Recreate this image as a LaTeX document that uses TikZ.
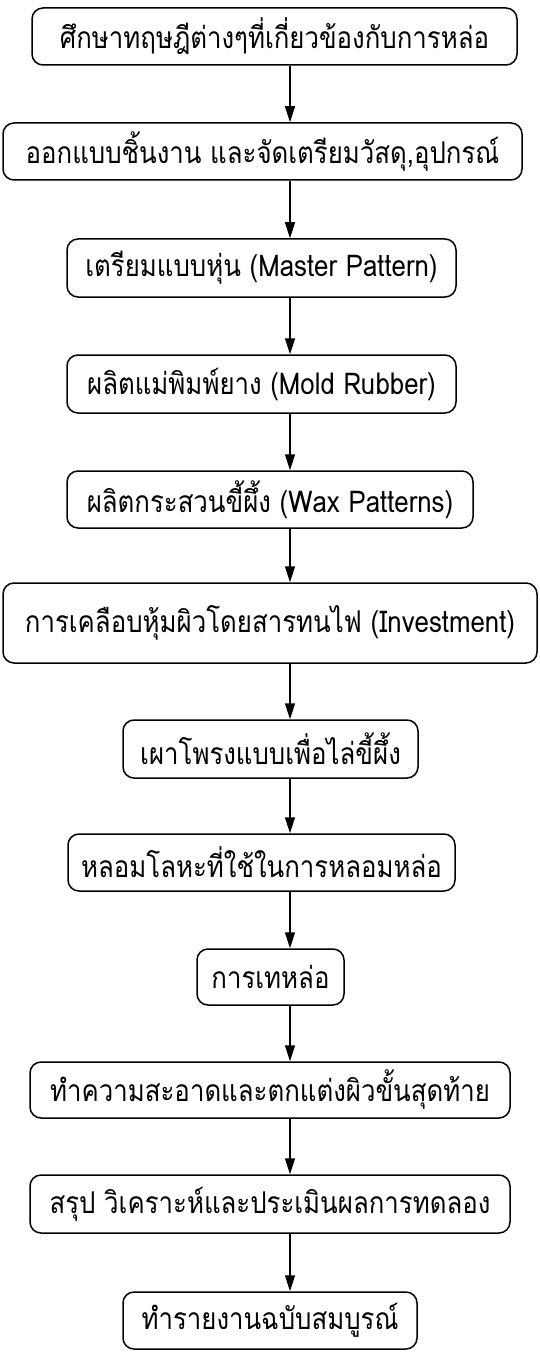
\documentclass[tikz,border=0pt]{standalone}
\usepackage{fontspec}
\newfontfamily\thaifont[Script=Thai,FakeStretch=0.86]{Loma}
\usetikzlibrary{arrows.meta}
\tikzset{
  stepbox/.style={draw, line width=1.5pt, rounded corners=11pt, inner sep=0pt,
    font=\thaifont\fontsize{30}{34}\selectfont, anchor=center},
  flow/.style={line width=1.5pt, -{Triangle[length=16pt,width=10pt]}}
}
\begin{document}
\begin{tikzpicture}[x=1pt,y=-1pt]
\useasboundingbox (0,0) rectangle (540,1364);
\coordinate (ax) at (290,0);
\node[stepbox, minimum width=485pt, minimum height=57pt] (b1) at (274.5,36.5) {ศึกษาทฤษฎีต่างๆที่เกี่ยวข้องกับการหล่อ};
\node[stepbox, minimum width=519pt, minimum height=57pt] (b2) at (262.5,151.5) {ออกแบบชิ้นงาน และจัดเตรียมวัสดุ,อุปกรณ์};
\node[stepbox, minimum width=389pt, minimum height=58pt] (b3) at (261.5,268) {เตรียมแบบหุ่น (Master Pattern)};
\node[stepbox, minimum width=389pt, minimum height=58pt] (b4) at (261.5,384) {ผลิตแม่พิมพ์ยาง (Mold Rubber)};
\node[stepbox, minimum width=406pt, minimum height=57pt] (b5) at (270,499.5) {ผลิตกระสวนขี้ผึ้ง (Wax Patterns)};
\node[stepbox, minimum width=534pt, minimum height=80pt] (b6) at (270,623) {การเคลือบหุ้มผิวโดยสารทนไฟ (Investment)};
\node[stepbox, minimum width=295pt, minimum height=58pt] (b7) at (270.5,749) {เผาโพรงแบบเพื่อไล่ขี้ผึ้ง};
\node[stepbox, minimum width=387pt, minimum height=57pt] (b8) at (261.5,862.5) {หลอมโลหะที่ใช้ในการหลอมหล่อ};
\node[stepbox, minimum width=147pt, minimum height=56pt] (b9) at (270.5,977) {การเทหล่อ};
\node[stepbox, minimum width=480pt, minimum height=56pt] (b10) at (270,1090) {ทำความสะอาดและตกแต่งผิวขั้นสุดท้าย};
\node[stepbox, minimum width=480pt, minimum height=58pt] (b11) at (270,1204) {สรุป วิเคราะห์และประเมินผลการทดลอง};
\node[stepbox, minimum width=294pt, minimum height=57pt] (b12) at (270,1320.5) {ทำรายงานฉบับสมบูรณ์};
\foreach \a/\b in {b1/b2,b2/b3,b3/b4,b4/b5,b5/b6,b6/b7,b7/b8,b8/b9,b9/b10,b10/b11,b11/b12}
  \draw[flow] (\a.south -| ax) -- (\b.north -| ax);
\end{tikzpicture}
\end{document}
